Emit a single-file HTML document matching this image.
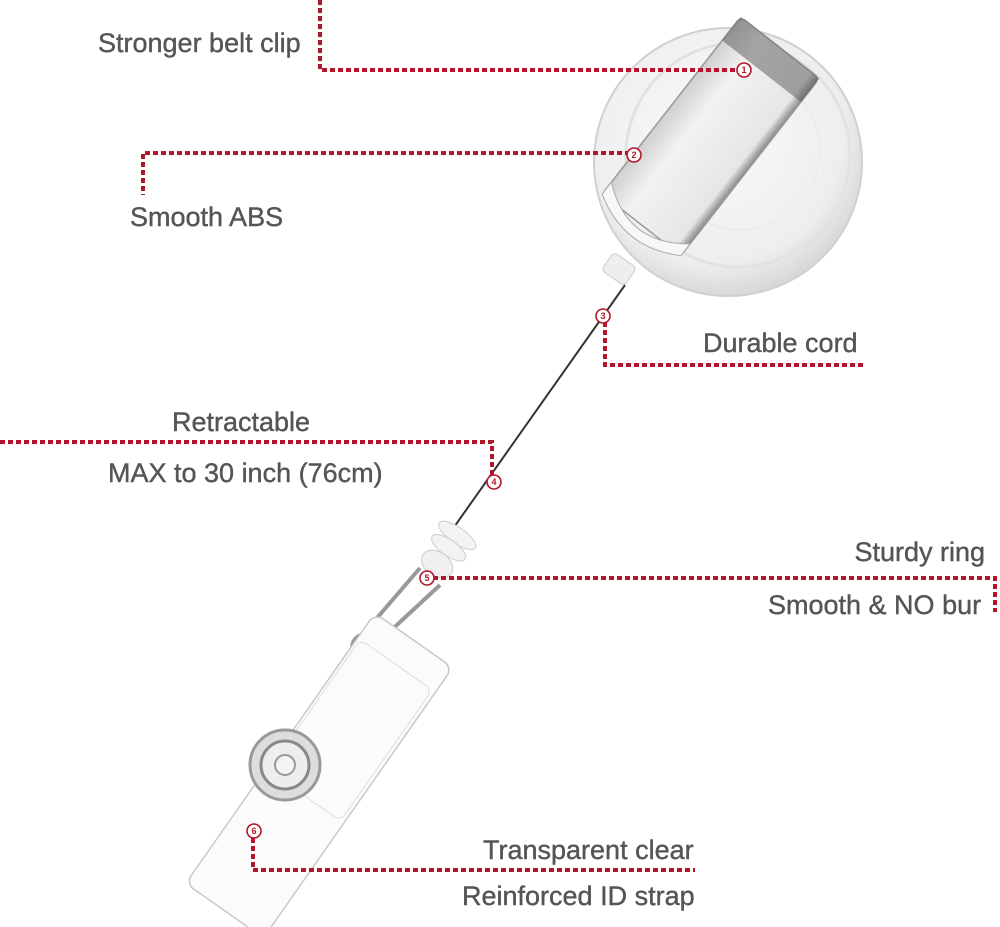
<!DOCTYPE html>
<html><head><meta charset="utf-8"><style>
html,body{margin:0;padding:0;background:#fff;}
svg{display:block}
text{font-family:"Liberation Sans",sans-serif;font-size:27px;fill:#555;stroke:#555;stroke-width:0.4;}
.d{stroke:#b3162a;stroke-width:4;stroke-dasharray:5 3;fill:none}
.c{fill:#fff;stroke:#b3162a;stroke-width:1.6}
.n{font-size:9px;fill:#b3162a;stroke:none;text-anchor:middle;font-weight:bold}
</style></head><body>
<svg width="1000" height="927" viewBox="0 0 1000 927">
<defs>
<radialGradient id="reel" cx="0.45" cy="0.4" r="0.6"><stop offset="0" stop-color="#fafafa"/><stop offset="0.8" stop-color="#eeeeee"/><stop offset="1" stop-color="#d8d8d8"/></radialGradient>
<linearGradient id="clip" x1="0" y1="0" x2="1" y2="0"><stop offset="0" stop-color="#cfcfcf"/><stop offset="0.3" stop-color="#f2f2f2"/><stop offset="0.9" stop-color="#e6e6e6"/><stop offset="1" stop-color="#888"/></linearGradient>
</defs>
<circle cx="728" cy="162" r="134" fill="url(#reel)" stroke="#d0d0d0" stroke-width="2"/>
<circle cx="738" cy="155" r="112" fill="none" stroke="#e2e2e2" stroke-width="3"/>
<circle cx="740" cy="150" r="80" fill="none" stroke="#ececec" stroke-width="2"/>
<g transform="rotate(38 700 150)">
<rect x="650" y="20" width="100" height="225" rx="6" fill="url(#clip)" stroke="#999" stroke-width="1.5"/>
<rect x="650" y="20" width="100" height="30" fill="#555" opacity="0.5"/>
<path d="M650 230 Q700 270 750 230 L750 245 Q700 275 650 245Z" fill="#f7f7f7" stroke="#aaa"/>
</g>
<rect x="605" y="258" width="28" height="22" rx="5" fill="#eee" stroke="#ccc" transform="rotate(35 619 269)"/>
<line x1="625" y1="285" x2="452" y2="530" stroke="#333" stroke-width="2"/>
<g transform="rotate(35 440 560)">
<ellipse cx="440" cy="530" rx="22" ry="8" fill="#f3f3f3" stroke="#ccc"/>
<ellipse cx="440" cy="545" rx="20" ry="8" fill="#f3f3f3" stroke="#ccc"/>
<ellipse cx="440" cy="565" rx="17" ry="12" fill="#f0f0f0" stroke="#ccc"/>
</g>
<path d="M420 568 L358 640 L372 648 L440 585" fill="none" stroke="#999" stroke-width="4"/>
<circle cx="366" cy="648" r="14" fill="none" stroke="#999" stroke-width="4"/>
<g transform="rotate(35 320 770)">
<rect x="275" y="610" width="95" height="330" rx="10" fill="#fbfbfb" stroke="#c8c8c8" stroke-width="1.5"/>
<rect x="278" y="640" width="88" height="160" rx="8" fill="none" stroke="#ddd"/>
</g>
<circle cx="285" cy="765" r="35" fill="#ddd" stroke="#999" stroke-width="3"/>
<circle cx="285" cy="765" r="24" fill="#eee" stroke="#888" stroke-width="3"/>
<circle cx="285" cy="765" r="10" fill="#f4f4f4" stroke="#999" stroke-width="2"/>
<path class="d" d="M320 0 V70 H740"/>
<path class="d" d="M630 153 H143 V195"/>
<path class="d" d="M605 322 V365 H866"/>
<path class="d" d="M0 442 H492 V478"/>
<path class="d" d="M433 578 H995 V612"/>
<path class="d" d="M253 838 V870 H695"/>
<circle class="c" cx="744" cy="70" r="7"/><text class="n" x="744" y="73">1</text>
<circle class="c" cx="634" cy="155" r="7"/><text class="n" x="634" y="158">2</text>
<circle class="c" cx="603" cy="316" r="7"/><text class="n" x="603" y="319">3</text>
<circle class="c" cx="494" cy="482" r="7"/><text class="n" x="494" y="485">4</text>
<circle class="c" cx="427" cy="578" r="7"/><text class="n" x="427" y="581">5</text>
<circle class="c" cx="254" cy="831" r="7"/><text class="n" x="254" y="834">6</text>
<text x="98" y="52">Stronger belt clip</text>
<text x="130" y="226">Smooth ABS</text>
<text x="703" y="352">Durable cord</text>
<text x="172" y="431">Retractable</text>
<text x="108" y="482">MAX to 30 inch (76cm)</text>
<text x="985" y="561" text-anchor="end">Sturdy ring</text>
<text x="768" y="614">Smooth &amp; NO bur</text>
<text x="483" y="859">Transparent clear</text>
<text x="462" y="905">Reinforced ID strap</text>
</svg>
</body></html>
